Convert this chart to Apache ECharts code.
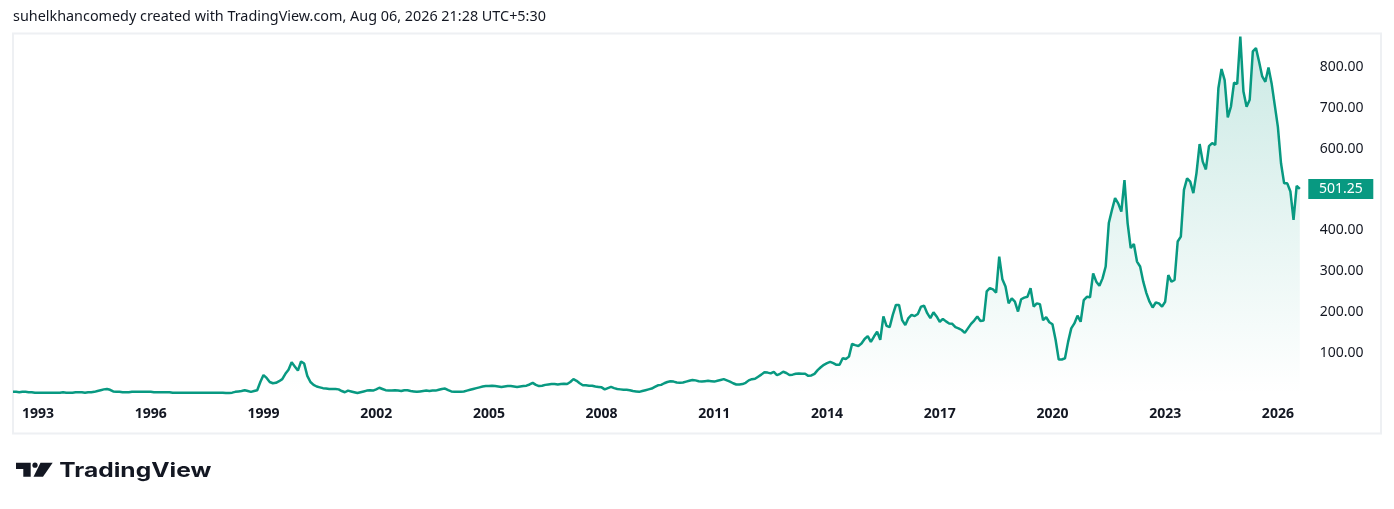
<!DOCTYPE html>
<html>
<head>
<meta charset="utf-8">
<script src="https://cdn.jsdelivr.net/npm/echarts@6/dist/echarts.min.js"></script>
<style>
  html, body { margin: 0; padding: 0; background: #ffffff; }
  #chart { width: 1394px; height: 509px; }
</style>
</head>
<body>
<div id="chart"></div>
<script>
// Monthly closes, starting May 1992
const startYear = 1992;
const startMonth = 5;

const pricesA = [6,6,5,6,6,5,5,
  4,4,4,4,4,4,4,4,4,5,4,4,4,5,
  5,5,4,5,5,6,8,
  10,12,13,11,7,
  6,6,5,5,5,6,6,6,6,6,6,6,5,5,5,5,5,5,4,4,4,4,4,4,4,4,4,4,4,4,4,4,4,4,4,3,3];
const pricesB = [4,6,7,8,10,8,6,8,10,30,47,40,30,27,28,32,37,50,60,78,68,58,80,75,45,30,23,19,17,15,14,13,13,13];
const pricesC = [12,8,5,9,7,5,3,5,7,9,
  10,9,12,16,13,10,9,9,10,9,
  8,10,10,8,7,6,7,8,9,8,
  9,9,11,13,14,10,7,6,6,6,
  7,9,11,13,15,17,19,20,20,21,
  20,19,18,19,20,20,19,18,19,20,
  21,24,28,23,20,21,23,24,25,25,
  24,25,26,25,30,37,33,27,22,22,
  21,21,19,18,17,12,15,18,15,13,
  12,11,11,10,8,7,6,8,10,12,
  14,18,22];
const pricesD = [23,27,30,32,31,29,28,29,31,33,
  35,34,32,31,32,33,32,31,33,35,
  37,34,31,27,24,24,25,28,34,37,
  38,43,48,54,53,51,55,47,50,55,
  52,47,48,50,51,50,50,45,46,50,
  59,66,72,76,79,76,72,72,88];
const pricesE = [86,92,123,120,118,124,135,142,128,141,
  153,133,190,167,164,194,218,218,181,169,
  186,194,191,196,214,216,198,186,200,190,
  177,184,178,173,172,164,161,157,150,161,
  172,180,190,179,180,251,259,256,248,336,
  281,263,222,234,226,202,232,236,238];
const pricesF = [259,214,222,220,181,188,176,171,133,85,
  85,88,128,161,173,192,177,230,238,237,
  295,275,265,283,312,418,450,479,466,446,
  523,418,357,367,324,312,275,247,226,212,
  224,222,214,226,291,275,279,373,385,499,
  527,519,491,540,611,568,549,606,613,609,
  747,794,767,676,702,761,758,873,739,702,
  719,837,845,812,776,763,798,759,706,653,
  564,515,515,495,426,509,501.25];

const prices = [].concat(pricesA, pricesB, pricesC, pricesD, pricesE, pricesF);

const categories = prices.map(function (_, i) {
  const t = startMonth - 1 + i;
  return (startYear + Math.floor(t / 12)) + '-' + String(t % 12 + 1).padStart(2, '0');
});

const yearLabels = ['1993','1996','1999','2002','2005','2008','2011','2014','2017','2020','2023','2026'];
const priceTicks = [100,200,300,400,500,600,700,800];
const headerText = 'suhelkhancomedy created with TradingView.com, Aug 06, 2026 21:28 UTC+5:30';
const logoText = 'TradingView';
const lastPrice = prices[prices.length - 1];

const GREEN = '#089981';
const TEXT = '#131722';

// measure text widths to fit the reference's text extents
const mctx = document.createElement('canvas').getContext('2d');
function measure(font, txt) { mctx.font = font; return mctx.measureText(txt).width; }
const headerSize = 13 * 533 / measure('13px "Noto Sans"', headerText);
const logoScale = 152 / measure('700 20px Inter', logoText);

const chart = echarts.init(document.getElementById('chart'), null, { renderer: 'canvas' });

chart.setOption({
  animation: false,
  backgroundColor: '#ffffff',
  grid: { left: 13, right: 94.2, top: 33, bottom: 114.7, containLabel: false },
  xAxis: {
    type: 'category',
    boundaryGap: false,
    data: categories,
    axisLine: { show: false },
    axisTick: { show: false },
    splitLine: { show: false },
    axisLabel: {
      interval: function (idx, val) {
        return val.slice(5) === '01' && yearLabels.indexOf(val.slice(0, 4)) >= 0;
      },
      formatter: function (val) { return val.slice(0, 4); },
      color: TEXT,
      fontSize: 14,
      fontWeight: 'bold',
      fontFamily: 'Noto Sans',
      margin: 13
    }
  },
  yAxis: {
    type: 'value',
    position: 'right',
    min: 0,
    max: 882,
    interval: 100,
    axisLine: { show: false },
    axisTick: { show: false },
    splitLine: { show: false },
    axisLabel: {
      formatter: function (v) { return priceTicks.indexOf(v) >= 0 ? v.toFixed(2) : ''; },
      color: TEXT,
      fontSize: 14,
      fontFamily: 'Noto Sans',
      margin: 20,
      align: 'left'
    }
  },
  series: [{
    type: 'line',
    data: prices,
    symbol: 'none',
    smooth: false,
    lineStyle: { color: GREEN, width: 2.5 },
    areaStyle: {
      color: new echarts.graphic.LinearGradient(0, 0, 0, 1, [
        { offset: 0, color: 'rgba(8,153,129,0.30)' },
        { offset: 1, color: 'rgba(8,153,129,0.0)' }
      ])
    },
    markPoint: {
      silent: true,
      symbol: 'rect',
      symbolSize: [65, 20],
      symbolOffset: [41, 0],
      itemStyle: { color: GREEN },
      label: {
        show: true,
        color: '#ffffff',
        fontSize: 14,
        fontFamily: 'Noto Sans',
        formatter: function () { return lastPrice.toFixed(2); }
      },
      data: [{ coord: [prices.length - 1, lastPrice], value: lastPrice }]
    }
  }],
  graphic: [
    {
      type: 'text', x: 13, y: 17,
      style: { text: headerText, fill: TEXT, font: headerSize.toFixed(2) + 'px "Noto Sans"', verticalAlign: 'middle' }
    },
    {
      type: 'rect', shape: { x: 13, y: 33.5, width: 1368, height: 400 },
      style: { fill: 'none', stroke: '#eef0f3', lineWidth: 2 }, silent: true, z: -1
    },
    // TradingView logo mark
    {
      type: 'polygon', shape: { points: [[16,462.7],[30.7,462.7],[30.7,476.7],[23.3,476.7],[23.3,469],[16,469]] },
      style: { fill: TEXT }
    },
    {
      type: 'circle', shape: { cx: 35, cy: 465.2, r: 2.6 }, style: { fill: TEXT }
    },
    {
      type: 'polygon', shape: { points: [[40.5,462.7],[52.7,462.7],[43,476.7],[33.5,476.7]] },
      style: { fill: TEXT }
    },
    {
      type: 'text', x: 59.3, y: 470.5, scaleX: logoScale,
      style: { text: logoText, fill: TEXT, font: '700 20px Inter', verticalAlign: 'middle' }
    }
  ]
});
</script>
</body>
</html>
